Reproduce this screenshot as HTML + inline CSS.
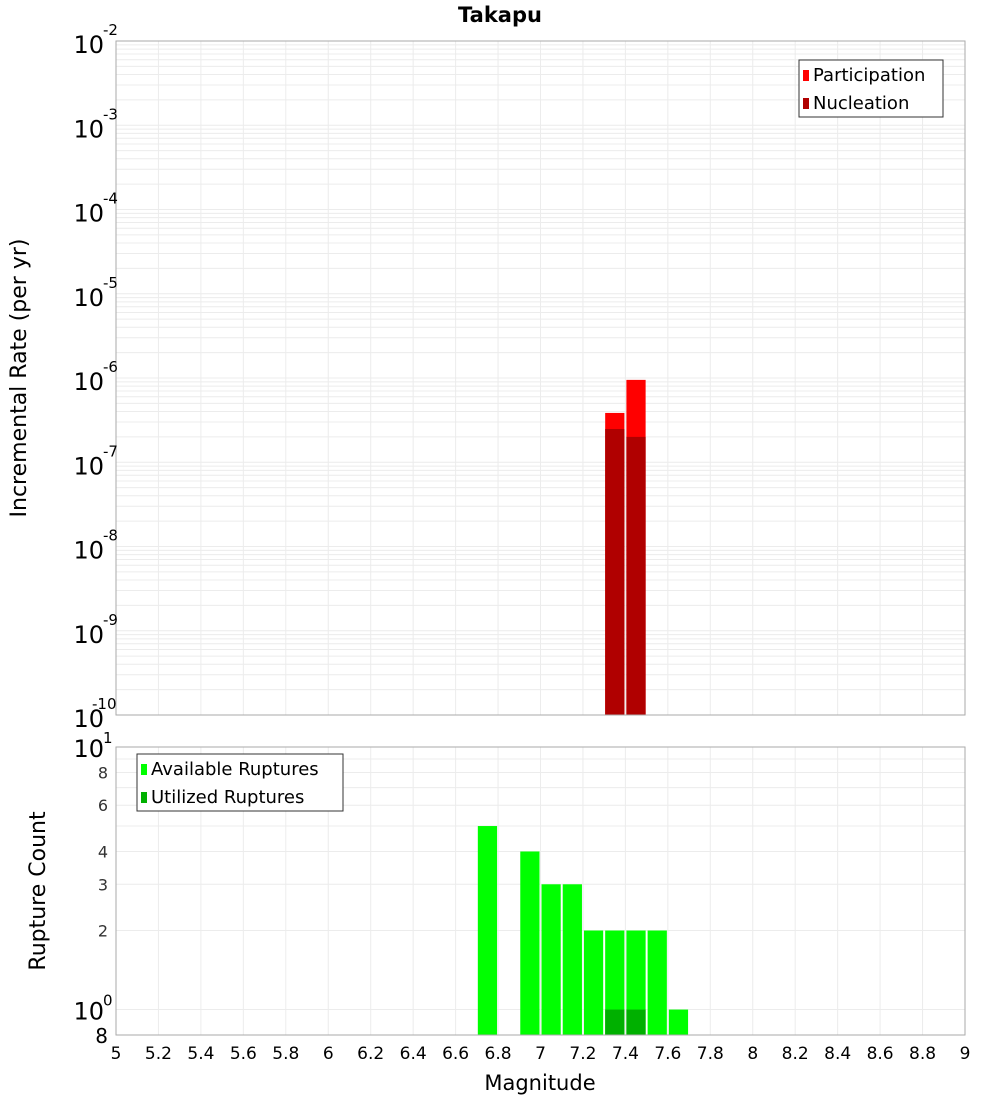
<!DOCTYPE html>
<html><head><meta charset="utf-8"><style>
body{margin:0;background:#fff;font-family:"DejaVu Sans","Liberation Sans",sans-serif;}
</style></head><body>
<svg id="c" width="1000" height="1100" xmlns="http://www.w3.org/2000/svg" font-family="DejaVu Sans, Liberation Sans, sans-serif"></svg>
<script>
const binCenters=[6.75,6.95,7.05,7.15,7.25,7.35,7.45,7.55,7.65];
const participation=[null,null,null,null,null,3.85e-7,9.5e-7,null,null];
const nucleation=[null,null,null,null,null,2.48e-7,2.0e-7,null,null];
const available=[5,4,3,3,2,2,2,2,1];
const utilized=[null,null,null,null,null,1,1,null,null];
const xTicks=[5,5.2,5.4,5.6,5.8,6,6.2,6.4,6.6,6.8,7,7.2,7.4,7.6,7.8,8,8.2,8.4,8.6,8.8,9];
const topExp=[-2,-3,-4,-5,-6,-7,-8,-9,-10];
const botTicks=[2,3,4,6,8];

const svg=document.getElementById('c');const NS='http://www.w3.org/2000/svg';
function el(t,a,txt){const e=document.createElementNS(NS,t);for(const k in a)e.setAttribute(k,a[k]);if(txt!==undefined)e.textContent=txt;svg.appendChild(e);return e;}
const X0=116,X1=965;
const x=m=>X0+(m-5)/4*(X1-X0);
const T0=41,T1=715;
const yT=v=>T0+(-2-Math.log10(v))/8*(T1-T0);
const B0=747,B1=1035;
const yB=v=>B0+(1-Math.log10(v))/(1-Math.log10(0.8))*(B1-B0);

// title
let t=el('text',{x:500,y:22,'text-anchor':'middle','font-size':21,'font-weight':'bold'},'Takapu');


// top grid
for(let e=-10;e<-2;e++){for(let k=1;k<10;k++){const v=k*Math.pow(10,e);const yy=yT(v);
 const g=el('line',{x1:X0,x2:X1,y1:yy,y2:yy,stroke:'#ececec','stroke-width':1});
 }}
xTicks.forEach(m=>{[[T0,T1],[B0,B1]].forEach(r=>{const g=el('line',{x1:x(m),x2:x(m),y1:r[0],y2:r[1],stroke:'#ececec'});
 });});
for(let k=1;k<=10;k++){if(k<1)continue;const yy=yB(k);const g=el('line',{x1:X0,x2:X1,y1:yy,y2:yy,stroke:'#ececec'});
 }

// top bars
const bw=(X1-X0)/40;
binCenters.forEach((m,i)=>{
 if(participation[i]){const r=el('rect',{x:x(m)-bw/2+1,y:yT(participation[i]),width:bw-2,height:T1-yT(participation[i]),fill:'#ff0000'});
  }
 if(nucleation[i]){const r=el('rect',{x:x(m)-bw/2+1,y:yT(nucleation[i]),width:bw-2,height:T1-yT(nucleation[i]),fill:'#b00000'});
  }
 if(available[i]){const r=el('rect',{x:x(m)-bw/2+1,y:yB(available[i]),width:bw-2,height:B1-yB(available[i]),fill:'#00ff00'});
  }
 if(utilized[i]){const r=el('rect',{x:x(m)-bw/2+1,y:yB(utilized[i]),width:bw-2,height:B1-yB(utilized[i]),fill:'#00b000'});
  }
});

// frames
[[T0,T1,'top-plot-frame'],[B0,B1,'bottom-plot-frame']].forEach(f=>{const r=el('rect',{x:X0,y:f[0],width:X1-X0,height:f[1]-f[0],fill:'none',stroke:'#aaaaaa'});
 });

// top y labels
topExp.forEach(e=>{const yy=yT(Math.pow(10,e));const g=el('text',{x:104,y:yy+12,'text-anchor':'end','font-size':24},'10');
 
 const s=el('text',{x:103,y:yy-6,'font-size':15,'text-anchor':'start'},String(e));s.setAttribute('x',e===-10?92:103);
 });
// bottom y labels
[[10,'1'],[1,'0']].forEach(p=>{const yy=yB(p[0]);const g=el('text',{x:104,y:yy+10,'text-anchor':'end','font-size':24},'10');
 
 const s=el('text',{x:103,y:yy-4,'font-size':15},p[1]);});
botTicks.forEach(v=>{const g=el('text',{x:108,y:yB(v)+6,'text-anchor':'end','font-size':16,fill:'#333'},String(v));
 });
t=el('text',{x:108,y:1043,'text-anchor':'end','font-size':20},'8');

// x ticks
xTicks.forEach(m=>{const g=el('text',{x:x(m),y:1059,'text-anchor':'middle','font-size':17},String(m));
 });
t=el('text',{x:540,y:1090,'text-anchor':'middle','font-size':21},'Magnitude');
t=el('text',{x:0,y:0,'text-anchor':'middle','font-size':22,transform:'translate(26,378) rotate(-90)'},'Incremental Rate (per yr)');
t=el('text',{x:0,y:0,'text-anchor':'middle','font-size':22,transform:'translate(45,891) rotate(-90)'},'Rupture Count');

// legends
function legend(x0,y0,w,items,name){const r=el('rect',{x:x0,y:y0,width:w,height:57,fill:'#fff',stroke:'#333'});
 
 items.forEach((it,i)=>{const s=el('rect',{x:x0+4,y:y0+10+i*28,width:6,height:11,fill:it[1]});
  
  const tx=el('text',{x:x0+14,y:y0+21+i*28,'font-size':18},it[0]);});}
legend(799,60,144,[['Participation','#ff0000'],['Nucleation','#b00000']],'top-legend');
legend(137,754,206,[['Available Ruptures','#00ff00'],['Utilized Ruptures','#00b000']],'bottom-legend');
</script>
</body></html>
